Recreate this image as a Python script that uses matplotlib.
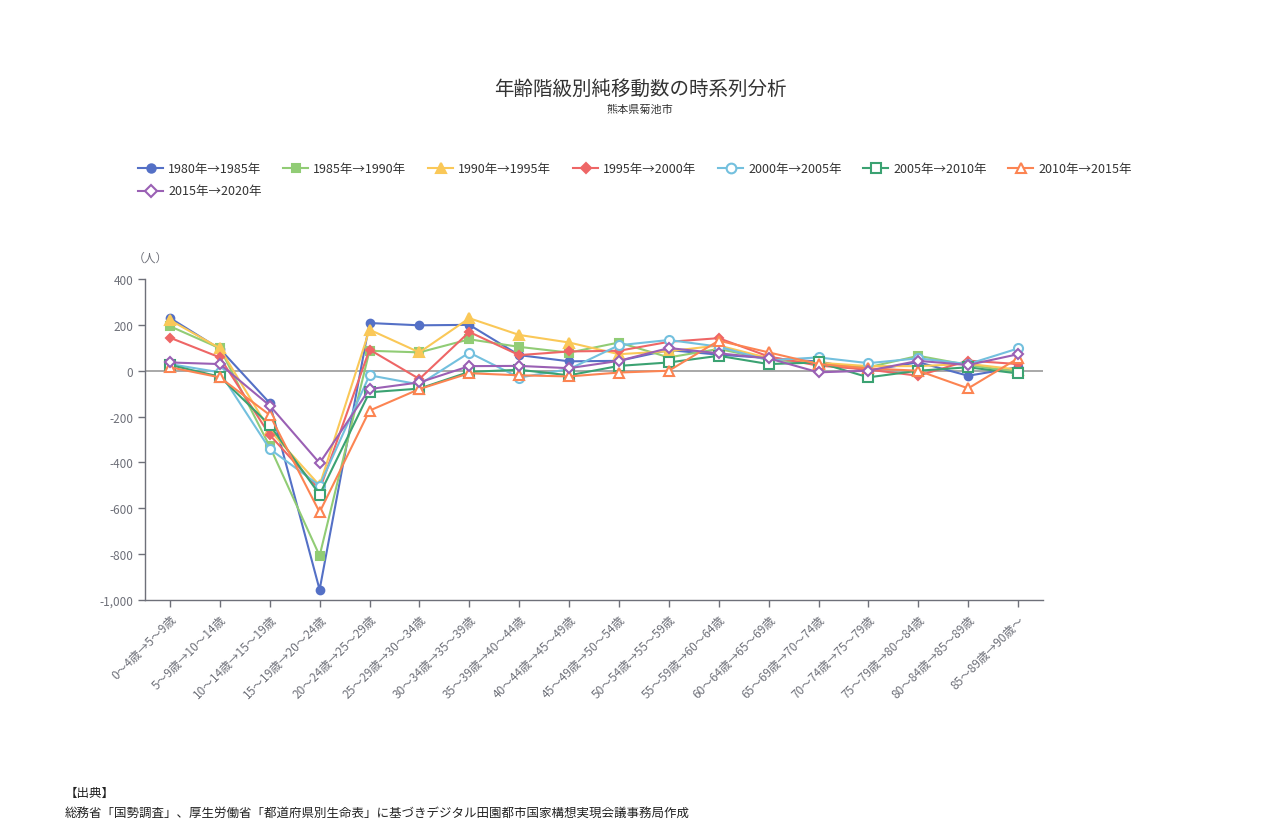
import matplotlib
matplotlib.use("Agg")
import matplotlib.pyplot as plt
from matplotlib.lines import Line2D

plt.rcParams['font.family'] = ['Noto Sans CJK JP', 'DejaVu Sans']

# === data ===
age_groups = ["0～4歳→5～9歳", "5～9歳→10～14歳", "10～14歳→15～19歳", "15～19歳→20～24歳",
              "20～24歳→25～29歳", "25～29歳→30～34歳", "30～34歳→35～39歳", "35～39歳→40～44歳",
              "40～44歳→45～49歳", "45～49歳→50～54歳", "50～54歳→55～59歳", "55～59歳→60～64歳",
              "60～64歳→65～69歳", "65～69歳→70～74歳", "70～74歳→75～79歳", "75～79歳→80～84歳",
              "80～84歳→85～89歳", "85～89歳→90歳～"]

periods = ["1980年→1985年", "1985年→1990年", "1990年→1995年", "1995年→2000年",
           "2000年→2005年", "2005年→2010年", "2010年→2015年", "2015年→2020年"]

v1980 = [230, 95, -141, -955, 208, 198, 200, 68, 41, 43, 90, 70, 55, 40, 0, 37, -22, 15]
v1985 = [194, 98, -330, -807, 87, 80, 137, 104, 79, 123, 58, 95, 50, 30, 15, 65, 25, -5]
v1990 = [221, 98, -260, -500, 179, 80, 229, 156, 123, 72, 85, 110, 55, 35, 20, 20, 30, 5]
v1995 = [144, 58, -280, -520, 92, -36, 169, 68, 84, 87, 126, 142, 62, 22, 5, -22, 44, 29]
v2000 = [29, -7, -341, -501, -20, -60, 79, -30, 7, 111, 134, 105, 45, 58, 33, 54, 29, 97]
v2005 = [25, -26, -237, -540, -94, -78, -5, 4, -20, 21, 36, 65, 29, 36, -29, 0, 15, -12]
v2010 = [15, -29, -193, -617, -174, -80, -11, -20, -25, -8, 0, 131, 80, 29, 10, 0, -77, 54]
v2015 = [36, 29, -152, -403, -80, -51, 20, 21, 11, 43, 99, 76, 54, -7, 0, 43, 25, 72]

series = [v1980, v1985, v1990, v1995, v2000, v2005, v2010, v2015]
colors = ['#5470c6', '#91cc75', '#fac858', '#ee6666', '#73c0de', '#3ba272', '#fc8452', '#9a60b4']
markers = ['o', 's', '^', 'D', 'o', 's', '^', 'D']
filled = [True, True, True, True, False, False, False, False]
msizes = [5.5, 5.5, 6.5, 4.5, 6.5, 6.5, 7, 5.5]

W, H = 1280, 828
fig = plt.figure(figsize=(W / 100, H / 100), dpi=100)

# plot area in pixels: x 145..1043, y 280..601
ax = fig.add_axes([145 / W, (H - 601) / H, 898 / W, 321 / H])
x = list(range(len(age_groups)))

ax.axhline(0, color='#999999', lw=1.2, zorder=1)
for vals, c, m, f, ms in zip(series, colors, markers, filled, msizes):
    ax.plot(x, vals, color=c, lw=1.5, marker=m, markersize=ms,
            markerfacecolor=c if f else 'white', markeredgecolor=c,
            markeredgewidth=1.5, zorder=3)

ax.set_xlim(-0.5, len(age_groups) - 0.5)
ax.set_ylim(-1000, 400)
ax.set_yticks(range(-1000, 401, 200))
ax.set_yticklabels([f"{v:,}" for v in range(-1000, 401, 200)])
ax.set_xticks(x)
ax.set_xticklabels(age_groups, rotation=45, ha='right', va='top', rotation_mode='anchor')

for s in ['top', 'right']:
    ax.spines[s].set_visible(False)
for s in ['left', 'bottom']:
    ax.spines[s].set_color('#6e7079')
    ax.spines[s].set_linewidth(1)
ax.tick_params(axis='both', colors='#6e7079', labelcolor='#6e7079', labelsize=8.5, length=5, width=1)
ax.tick_params(axis='x', pad=4)

# title
fig.text(640 / W, 1 - 89 / H, "年齢階級別純移動数の時系列分析", ha='center', va='center',
         fontsize=14, color='#333333')
fig.text(640 / W, 1 - 110 / H, "熊本県菊池市", ha='center', va='center',
         fontsize=8, color='#333333')
fig.text(133 / W, 1 - 258 / H, "（人）", ha='left', va='center', fontsize=8.5, color='#6e7079')

# legend (drawn by hand to keep ECharts row layout)
leg_pos = [(138, 169), (283, 169), (428, 169), (573, 169), (718, 169), (863, 169), (1008, 169), (138, 192)]
for (lx, ly), label, c, m, f, ms in zip(leg_pos, periods, colors, markers, filled, msizes):
    fy = 1 - ly / H
    fig.add_artist(Line2D([lx / W, (lx + 25) / W], [fy, fy], transform=fig.transFigure,
                          color=c, lw=1.5))
    fig.add_artist(Line2D([(lx + 12.5) / W], [fy], transform=fig.transFigure,
                          color=c, marker=m, markersize=ms + 0.5,
                          markerfacecolor=c if f else 'white', markeredgecolor=c,
                          markeredgewidth=1.5))
    fig.text((lx + 30) / W, fy, label, ha='left', va='center', fontsize=9, color='#333333')

# source
fig.text(65 / W, 1 - 793 / H, "【出典】", ha='left', va='center', fontsize=9, color='#222222')
fig.text(65 / W, 1 - 813 / H,
         "総務省「国勢調査」、厚生労働省「都道府県別生命表」に基づきデジタル田園都市国家構想実現会議事務局作成",
         ha='left', va='center', fontsize=9, color='#222222')

fig.savefig("out.png", dpi=100)
